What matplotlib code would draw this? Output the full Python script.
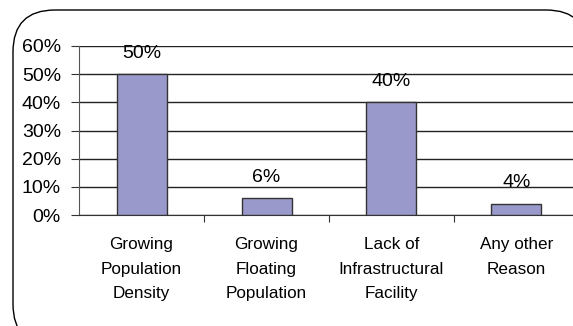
import matplotlib
matplotlib.use("Agg")
import matplotlib.pyplot as plt
from matplotlib.patches import FancyBboxPatch

plt.rcParams['font.family'] = ['Liberation Sans', 'DejaVu Sans']

# reasons and their share of responses (%)
reasons = ["Growing\nPopulation\nDensity", "Growing\nFloating\nPopulation",
           "Lack of\nInfrastructural\nFacility", "Any other\nReason"]
shares = [50, 6, 40, 4]
yticks = [0, 10, 20, 30, 40, 50, 60]

W, H = 573, 326
fig = plt.figure(figsize=(W / 100, H / 100), dpi=100)

# rounded frame around the chart, drawn in pixel units
bg = fig.add_axes([0, 0, 1, 1], zorder=0)
bg.set_xlim(0, W)
bg.set_ylim(H, 0)
bg.axis('off')
frame = FancyBboxPatch((13, 10), 575, 336, boxstyle="round,pad=0,rounding_size=42",
                       facecolor='white', edgecolor='black', linewidth=1.0)
bg.add_patch(frame)

ax = fig.add_axes([79 / W, 111 / H, 500 / W, 169 / H], zorder=1)
ax.patch.set_alpha(0)
x = list(range(len(reasons)))
ax.bar(x, shares, width=0.4, color='#9999cc', edgecolor='#333333', linewidth=1.0, zorder=3)

for xi, v in zip(x, shares):
    ax.annotate(f"{v}%", (xi, v), xytext=(0, 21), textcoords='offset pixels',
                ha='center', va='center', fontsize=14, zorder=4)

ax.set_xlim(-0.5, len(reasons) - 0.5)
ax.set_ylim(0, 60)
ax.set_yticks(yticks)
ax.set_yticklabels([f"{t}%" for t in yticks], fontsize=14)
for t in yticks:
    ax.axhline(t, color='#222222', linewidth=1.0, zorder=1)

ax.set_xticks([i + 0.5 for i in x[:-1]])
ax.set_xticklabels([])
ax.set_xticks(x, minor=True)
ax.set_xticklabels(reasons, minor=True, fontsize=12.3, linespacing=1.8)
ax.tick_params(axis='x', which='minor', length=0, pad=16)
ax.tick_params(axis='x', which='major', length=5, direction='out', color='#333333')
ax.tick_params(axis='y', length=6, direction='out', color='#333333', pad=7)

for s in ['top', 'right']:
    ax.spines[s].set_visible(False)
ax.spines['left'].set_color('#555555')
ax.spines['bottom'].set_color('#333333')

fig.savefig("out.png", dpi=100)
